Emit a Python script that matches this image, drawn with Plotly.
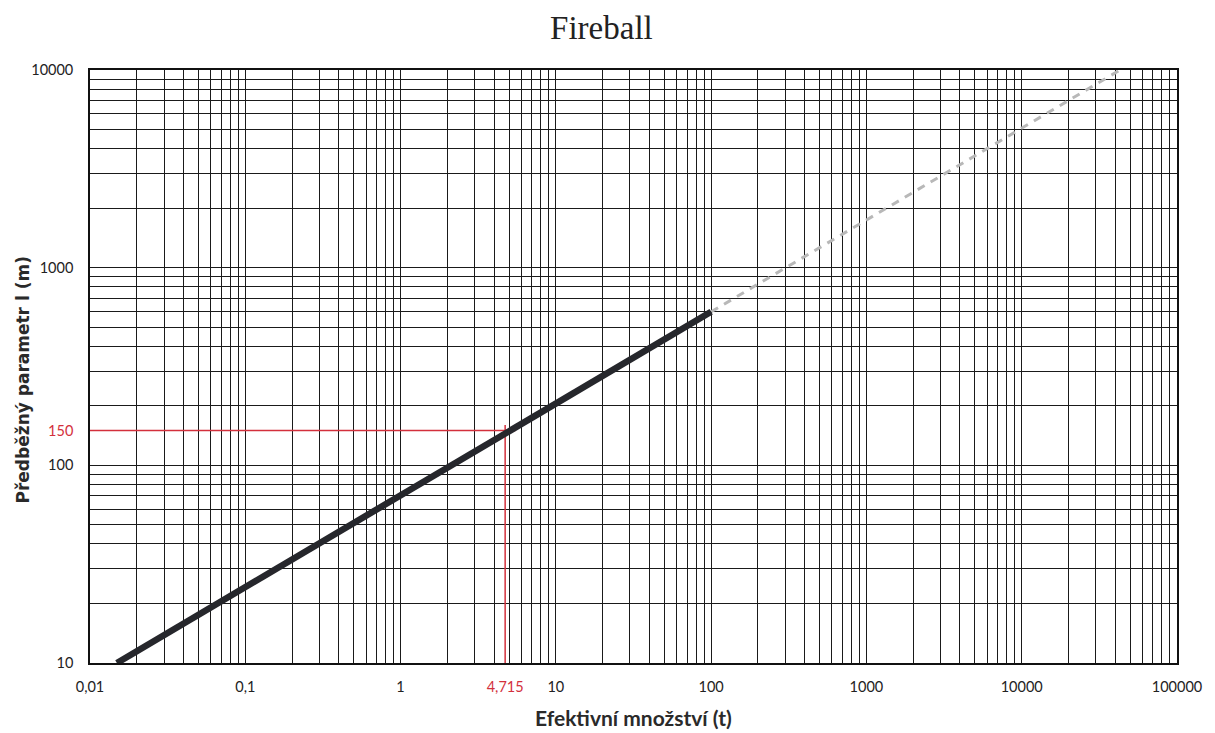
import math
import plotly.graph_objects as go

# ---- data ----
x_major = [0.01, 0.1, 1, 10, 100, 1000, 10000, 100000]
x_major_text = ["0,01", "0,1", "1", "10", "100", "1000", "10000", "100000"]
y_major = [10, 100, 1000, 10000]
y_major_text = ["10", "100", "1000", "10000"]

solid_x = [0.0149, 4.715, 100]
solid_y = [10, 145, 598]
dash_x = [100, 43000]
dash_y = [598, 10000]

read_x = 4.715
read_y = 150
read_x_text = "4,715"
read_y_text = "150"

red_h_x = [0.01, 5.5]
red_h_y = [read_y, read_y]
red_v_x = [read_x, read_x]
red_v_y = [10, 160]

# ---- grid (all 1..9 multiples in every decade) ----
def decade_grid(lo, hi):
    vals = []
    for e in range(lo, hi):
        for m in range(1, 10):
            vals.append(m * 10 ** e)
    vals.append(10 ** hi)
    return vals

x_grid = decade_grid(-2, 5)
y_grid = decade_grid(1, 4)

RED = "#d3303c"
W, H = 1215, 733

fig = go.Figure()
fig.add_trace(go.Scatter(x=red_h_x, y=red_h_y, mode="lines",
                         line=dict(color=RED, width=1.5), hoverinfo="skip"))
fig.add_trace(go.Scatter(x=red_v_x, y=red_v_y, mode="lines",
                         line=dict(color=RED, width=1.5), hoverinfo="skip"))
fig.add_trace(go.Scatter(x=dash_x, y=dash_y, mode="lines",
                         line=dict(color="#b8b8b8", width=3, dash="8px,7px")))
fig.add_trace(go.Scatter(x=solid_x, y=solid_y, mode="lines",
                         line=dict(color="#26272c", width=6.5)))

tick_font = dict(family="Lato, Calibri, sans-serif", size=14.5, color="#222")

xt_vals = x_major[:3] + [read_x] + x_major[3:]
xt_text = x_major_text[:3] + [f"<span style='color:{RED}'>{read_x_text}</span>"] + x_major_text[3:]
yt_vals = y_major[:1] + [read_y] + y_major[1:]
yt_text = y_major_text[:1] + [f"<span style='color:{RED}'>{read_y_text}</span>"] + y_major_text[1:]

fig.update_layout(
    width=W, height=H,
    margin=dict(l=90, r=38, t=70, b=70),
    paper_bgcolor="white", plot_bgcolor="white",
    showlegend=False,
    title=dict(text="Fireball", x=0.495, xanchor="center",
               y=1 - 27 / H, yref="container", yanchor="middle",
               font=dict(family="Liberation Serif, serif", size=33, color="#222")),
    xaxis=dict(type="log", range=[-2, 5], tickmode="array",
               tickvals=xt_vals, ticktext=xt_text, showgrid=False,
               tickfont=tick_font, ticks="", ticklabelstandoff=10,
               showline=True, linecolor="#111", linewidth=1.6, mirror=True,
               zeroline=False,
               minor=dict(tickmode="array", tickvals=x_grid, showgrid=True,
                          gridcolor="#1a1a1a", gridwidth=1.4, ticks="")),
    yaxis=dict(type="log", range=[1, 4], tickmode="array",
               tickvals=yt_vals, ticktext=yt_text, showgrid=False,
               tickfont=tick_font, ticks="", ticklabelstandoff=12,
               showline=True, linecolor="#111", linewidth=1.6, mirror=True,
               zeroline=False,
               minor=dict(tickmode="array", tickvals=y_grid, showgrid=True,
                          gridcolor="#1a1a1a", gridwidth=1.4, ticks="")),
    annotations=[
        dict(text="<b>Efektivní množství (t)</b>", xref="paper", yref="paper",
             x=0.5, y=0, yshift=-54, showarrow=False, xanchor="center", yanchor="middle",
             font=dict(family="Lato, Calibri, sans-serif", size=21, color="#2a2a2a")),
        dict(text="<b>Předběžný parametr l (m)</b>", xref="paper", yref="paper",
             x=0, xshift=-68, y=0.5, yshift=-14, showarrow=False, textangle=-90,
             xanchor="center", yanchor="middle",
             font=dict(family="DejaVu Sans, Verdana, sans-serif", size=17, color="#2a2a2a")),
    ],
)

fig.write_html("out.html", config={"displayModeBar": False},
               post_script="document.body.style.margin='0';document.body.style.overflow='hidden';")
